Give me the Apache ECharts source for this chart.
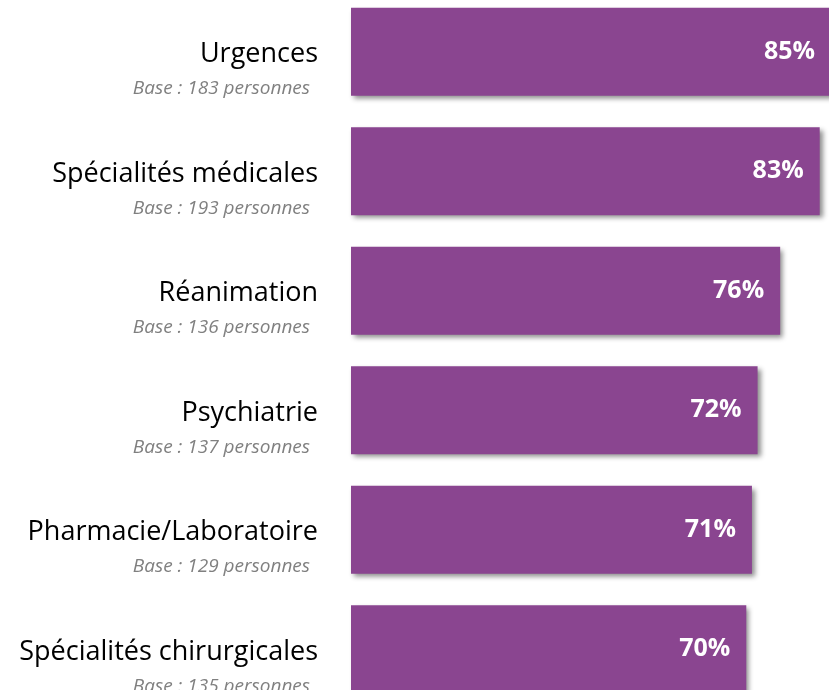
<!DOCTYPE html>
<html>
<head>
<meta charset="utf-8">
<script src="https://cdn.jsdelivr.net/npm/echarts@6/dist/echarts.min.js"></script>
<style>
  html, body { margin: 0; padding: 0; background: #fff; }
  #chart { width: 829px; height: 690px; }
</style>
</head>
<body>
<div id="chart"></div>
<script>
const categories = [
  "Urgences",
  "Spécialités médicales",
  "Réanimation",
  "Psychiatrie",
  "Pharmacie/Laboratoire",
  "Spécialités chirurgicales",
];
const bases = [183, 193, 136, 137, 129, 135];
const values = [85, 83, 76, 72, 71, 70];

const chart = echarts.init(document.getElementById("chart"));

chart.setOption({
  animation: false,
  textStyle: { fontFamily: "Open Sans" },
  grid: { left: 351, right: -2, top: -8, height: 717, outerBoundsMode: "none" },
  xAxis: {
    type: "value",
    min: 0,
    max: 85,
    show: false,
  },
  yAxis: {
    type: "category",
    data: categories,
    inverse: true,
    axisLine: { show: false },
    axisTick: { show: false },
    splitLine: { show: false },
    axisLabel: {
      margin: 33,
      align: "right",
      formatter: (value, index) =>
        `{sp| }\n{name|${value}}\n{base|Base : ${bases[index]} personnes}`,
      rich: {
        sp: { fontSize: 10, lineHeight: 44 },
        name: {
          fontFamily: "Open Sans",
          fontSize: 27,
          lineHeight: 30,
          color: "#000",
          align: "right",
        },
        base: {
          fontFamily: "Open Sans",
          fontStyle: "italic",
          fontSize: 19,
          lineHeight: 38,
          color: "#808080",
          align: "right",
          padding: [0, 8, 0, 0],
        },
      },
    },
  },
  series: [
    {
      type: "bar",
      data: values,
      barWidth: 88,
      itemStyle: {
        color: "#8a4590",
        shadowColor: "rgba(0,0,0,0.45)",
        shadowBlur: 5,
        shadowOffsetX: 3,
        shadowOffsetY: 3,
      },
      label: {
        show: true,
        position: "insideRight",
        distance: 16,
        formatter: "{c}%",
        color: "#fff",
        fontFamily: "Open Sans",
        fontWeight: "bold",
        fontSize: 25,
      },
    },
  ],
});
</script>
</body>
</html>
